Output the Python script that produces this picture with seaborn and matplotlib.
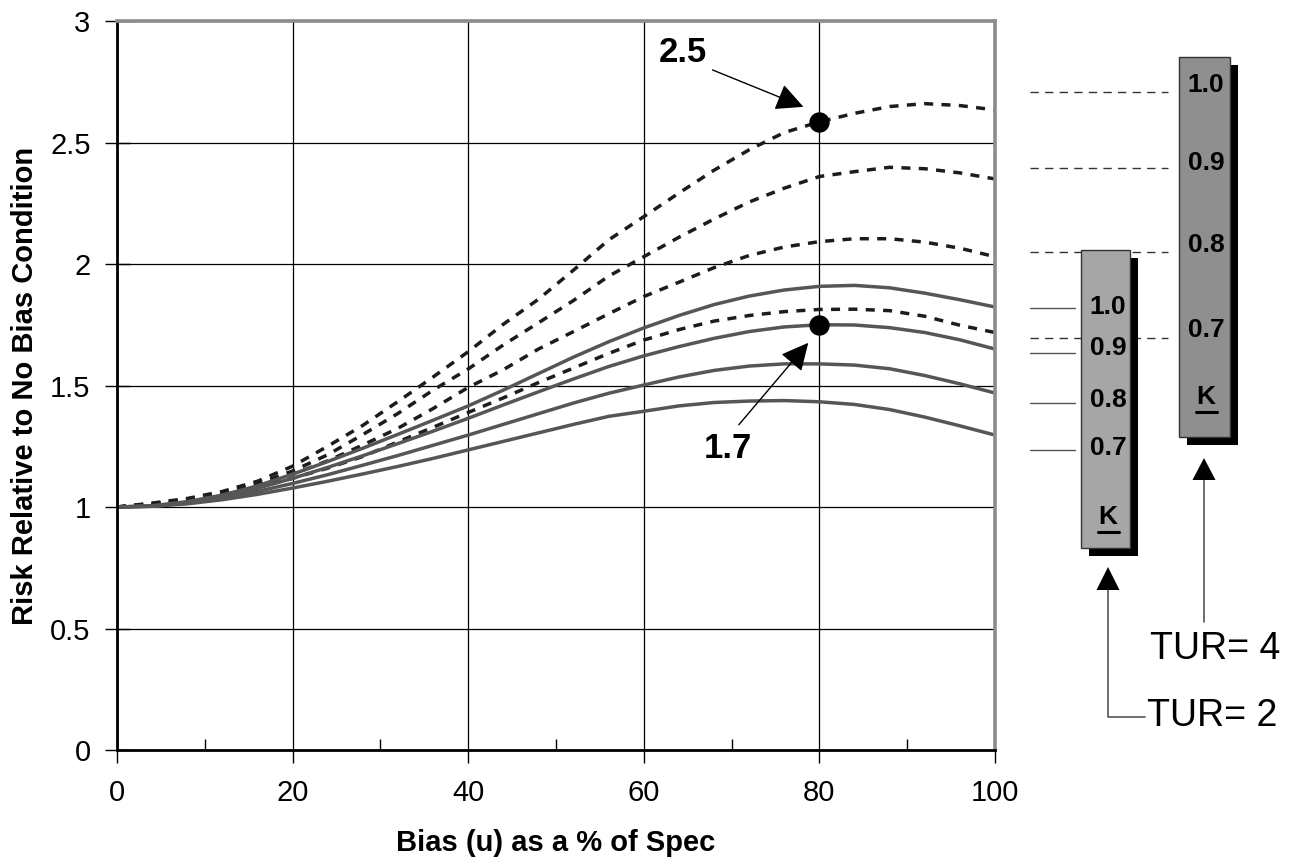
import matplotlib
matplotlib.use("Agg")
import matplotlib.pyplot as plt
import matplotlib.transforms as mtransforms
from matplotlib.patches import Rectangle, Polygon
from matplotlib.ticker import FuncFormatter
import pandas as pd
import seaborn as sns

# ---- data -------------------------------------------------------------
bias_pct = [0, 4, 8, 12, 16, 20, 24, 28, 32, 36, 40, 44, 48, 52, 56, 60,
            64, 68, 72, 76, 80, 84, 88, 92, 96, 100]

# TUR = 2 (solid curves), K = 1.0 .. 0.7
tur2_k10 = [1.000, 1.005, 1.022, 1.049, 1.087, 1.135, 1.187, 1.242, 1.299, 1.357, 1.416, 1.481, 1.549,
            1.617, 1.680, 1.737, 1.788, 1.833, 1.868, 1.893, 1.908, 1.912, 1.902, 1.880, 1.853, 1.823]
tur2_k09 = [1.000, 1.004, 1.019, 1.043, 1.077, 1.118, 1.163, 1.211, 1.261, 1.312, 1.365, 1.420, 1.474,
            1.527, 1.578, 1.622, 1.660, 1.694, 1.722, 1.741, 1.750, 1.749, 1.738, 1.718, 1.688, 1.650]
tur2_k08 = [1.000, 1.003, 1.016, 1.036, 1.064, 1.097, 1.133, 1.172, 1.212, 1.254, 1.296, 1.340, 1.384,
            1.428, 1.468, 1.502, 1.535, 1.562, 1.580, 1.589, 1.589, 1.584, 1.569, 1.541, 1.507, 1.469]
tur2_k07 = [1.000, 1.003, 1.013, 1.030, 1.052, 1.078, 1.106, 1.136, 1.167, 1.200, 1.235, 1.270, 1.305,
            1.340, 1.373, 1.394, 1.416, 1.430, 1.436, 1.438, 1.433, 1.422, 1.401, 1.370, 1.334, 1.296]

# TUR = 4 (dashed curves), K = 1.0 .. 0.7
tur4_k10 = [1.000, 1.016, 1.035, 1.064, 1.106, 1.168, 1.250, 1.336, 1.434, 1.535, 1.639, 1.752, 1.855,
            1.975, 2.099, 2.195, 2.292, 2.386, 2.470, 2.541, 2.585, 2.620, 2.648, 2.660, 2.652, 2.634]
tur4_k09 = [1.000, 1.014, 1.032, 1.058, 1.095, 1.148, 1.215, 1.298, 1.385, 1.481, 1.568, 1.667, 1.758,
            1.850, 1.950, 2.030, 2.110, 2.185, 2.255, 2.312, 2.360, 2.380, 2.398, 2.392, 2.375, 2.350]
tur4_k08 = [1.000, 1.012, 1.030, 1.054, 1.088, 1.135, 1.190, 1.255, 1.324, 1.405, 1.492, 1.565, 1.650,
            1.722, 1.795, 1.866, 1.925, 1.985, 2.035, 2.070, 2.092, 2.104, 2.104, 2.090, 2.065, 2.030]
tur4_k07 = [1.000, 1.010, 1.027, 1.050, 1.080, 1.118, 1.160, 1.208, 1.268, 1.328, 1.389, 1.449, 1.512,
            1.572, 1.632, 1.687, 1.730, 1.765, 1.788, 1.804, 1.813, 1.814, 1.808, 1.785, 1.748, 1.718]

k_labels = ["1.0", "0.9", "0.8", "0.7"]
tur_labels = ["TUR= 2", "TUR= 4"]
x_ticks = [0, 20, 40, 60, 80, 100]
y_ticks = [0, 0.5, 1, 1.5, 2, 2.5, 3]

# highlighted points (bias 80 %) and their callout text
callout_bias = 80
callout_texts = ["2.5", "1.7"]

series = {("4", "1.0"): tur4_k10, ("4", "0.9"): tur4_k09,
          ("4", "0.8"): tur4_k08, ("4", "0.7"): tur4_k07,
          ("2", "1.0"): tur2_k10, ("2", "0.9"): tur2_k09,
          ("2", "0.8"): tur2_k08, ("2", "0.7"): tur2_k07}
rows = []
for (tur, k), vals in series.items():
    for b, r in zip(bias_pct, vals):
        rows.append({"bias": b, "risk": r, "tur": tur, "k": k})
df = pd.DataFrame(rows)

# ---- style ------------------------------------------------------------
sns.set_theme(style="white")
plt.rcParams["font.family"] = ["Liberation Sans", "DejaVu Sans"]

W, H = 1295, 863
fig = plt.figure(figsize=(W / 100, H / 100), dpi=100)
ax = fig.add_axes([117 / W, 1 - 750 / H, (995 - 117) / W, (750 - 21) / H])

sns.lineplot(data=df, x="bias", y="risk", hue="tur", style="tur", units="k",
             estimator=None, sort=False, legend=False, ax=ax,
             palette={"2": "#565656", "4": "#1c1c1c"},
             dashes={"2": "", "4": (2.6, 2.4)}, linewidth=2.5)

i80 = bias_pct.index(callout_bias)
dot_df = pd.DataFrame({"bias": [callout_bias, callout_bias],
                       "risk": [tur4_k10[i80], tur2_k09[i80]]})
sns.scatterplot(data=dot_df, x="bias", y="risk", s=215, color="black",
                linewidth=0, ax=ax, zorder=6, legend=False)

ax.set_xlim(0, 100)
ax.set_ylim(0, 3)
ax.set_xticks(x_ticks)
ax.set_xticks(range(10, 100, 20), minor=True)
ax.set_yticks(y_ticks)
ax.yaxis.set_major_formatter(FuncFormatter(lambda v, p: f"{v:g}"))
ax.grid(True, which="major", color="black", linewidth=0.9)
ax.set_axisbelow(True)

ax.tick_params(axis="x", which="major", direction="out", length=9, width=1,
               color="black", labelsize=21, labelcolor="black", pad=12, bottom=True)
ax.tick_params(axis="x", which="minor", direction="in", length=8, width=1,
               color="black", bottom=True)
ax.tick_params(axis="y", which="major", direction="inout", length=18, width=1,
               color="black", labelsize=21, labelcolor="black", pad=10, left=True)

for side in ("left", "bottom"):
    ax.spines[side].set_color("black")
    ax.spines[side].set_linewidth(2)
for side in ("top", "right"):
    ax.spines[side].set_color("#8c8c8c")
    ax.spines[side].set_linewidth(2.6)

ax.set_xlabel("Bias (u) as a % of Spec", fontsize=21, fontweight="bold",
              color="black", labelpad=16)
ax.set_ylabel("Risk Relative to No Bias Condition", fontsize=21,
              fontweight="bold", color="black", labelpad=8)


def offset(dx, dy):
    """Transform that shifts data coordinates by (dx, dy) points."""
    return ax.transData + mtransforms.ScaledTranslation(dx / 72, dy / 72, fig.dpi_scale_trans)


callouts = [
    # (dot value, arrow tip offset, arrow tail offset, text offset) in points
    (tur4_k10[i80], (-11.5, 10.8), (-77, 37.4), (-98, 50)),
    (tur2_k09[i80], (-8, -13), (-58, -72), (-66, -89)),
]
for (yv, tip, tail, txt), label in zip(callouts, callout_texts):
    ax.annotate("", xy=(callout_bias, yv), xycoords=offset(*tip),
                xytext=(callout_bias, yv), textcoords=offset(*tail),
                arrowprops=dict(arrowstyle="-|>,head_length=0.85,head_width=0.42",
                                mutation_scale=20, color="black", lw=1,
                                shrinkA=0, shrinkB=0), zorder=7)
    ax.annotate(label, xy=(callout_bias, yv), xytext=txt, textcoords="offset points",
                ha="center", va="center", fontsize=25, fontweight="bold",
                color="black", zorder=7)

# ---- K-value key boxes at the right -----------------------------------
ov = fig.add_axes([0, 0, 1, 1])
ov.set_xlim(0, W)
ov.set_ylim(H, 0)
ov.axis("off")

# connector lines toward the curve ends
for y in (92, 168, 252, 338):
    ov.plot([1030, 1168], [y, y], color="#333333", lw=1, linestyle=(0, (6, 4.5)), zorder=1)
for y in (308, 353, 403, 450):
    ov.plot([1030, 1075], [y, y], color="#555555", lw=1, zorder=1)

boxes = [
    # (left, top, right, bottom, fill, label ys, K y, center x)
    (1081, 250, 1130, 548, "#a6a6a6", (307, 348, 400, 448), 517, 1108),
    (1179, 57, 1230, 437, "#8f8f8f", (85, 163, 245, 330), 397, 1206),
]
for l, t, r, b, fill, ys, ky, cx in boxes:
    ov.add_patch(Rectangle((l + 8, t + 8), r - l, b - t, facecolor="black",
                           edgecolor="none", zorder=2))
    ov.add_patch(Rectangle((l, t), r - l, b - t, facecolor=fill,
                           edgecolor="#333333", lw=1, zorder=3))
    for lab, y in zip(k_labels, ys):
        ov.text(cx, y, lab, ha="center", va="center", fontsize=19,
                fontweight="bold", color="black", zorder=4)
    ov.text(cx, ky, "K", ha="center", va="center", fontsize=19,
            fontweight="bold", color="black", zorder=4)
    ov.plot([cx - 10.5, cx + 10.5], [ky + 15, ky + 15], color="black", lw=2.2, zorder=4)

# pointer arrows and TUR labels
ov.plot([1108, 1108, 1145], [590, 717, 717], color="#555555", lw=1.2, zorder=2)
ov.add_patch(Polygon([(1108, 567), (1096.5, 590), (1119.5, 590)], closed=True,
                     facecolor="black", edgecolor="none", zorder=3))
ov.plot([1204, 1204], [480, 622], color="#555555", lw=1.2, zorder=2)
ov.add_patch(Polygon([(1204, 458), (1192.5, 480), (1215.5, 480)], closed=True,
                     facecolor="black", edgecolor="none", zorder=3))
ov.text(1147, 716, tur_labels[0], ha="left", va="center", fontsize=27, color="black")
ov.text(1150, 649, tur_labels[1], ha="left", va="center", fontsize=27, color="black")

fig.savefig("out.png", dpi=100, facecolor="white")
